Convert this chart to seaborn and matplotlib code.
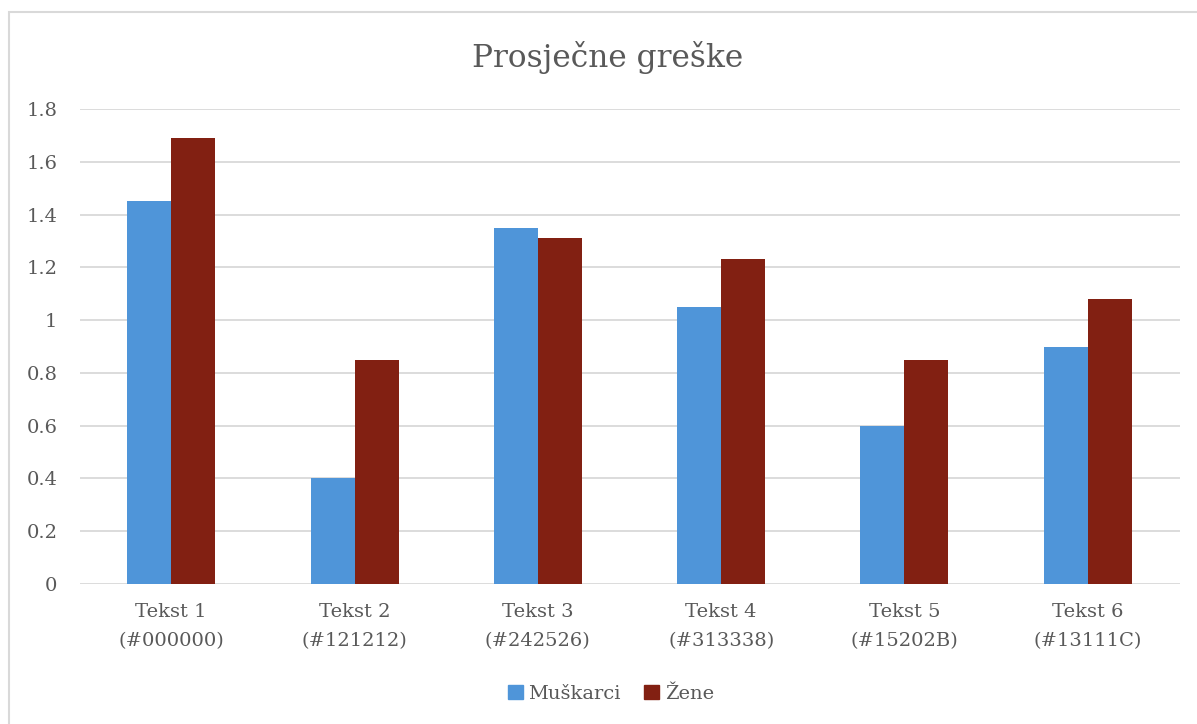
import matplotlib
matplotlib.use("Agg")
import matplotlib.pyplot as plt
import seaborn as sns
import pandas as pd
from matplotlib.patches import Rectangle

categories = ["Tekst 1\n(#000000)", "Tekst 2\n(#121212)", "Tekst 3\n(#242526)",
              "Tekst 4\n(#313338)", "Tekst 5\n(#15202B)", "Tekst 6\n(#13111C)"]
muskarci = [1.45, 0.40, 1.35, 1.05, 0.60, 0.90]
zene = [1.69, 0.85, 1.31, 1.23, 0.85, 1.08]
series = ["Muškarci", "Žene"]
colors = ["#4f95d9", "#822012"]
yticks = [0, 0.2, 0.4, 0.6, 0.8, 1.0, 1.2, 1.4, 1.6, 1.8]
yticklabels = ["0", "0.2", "0.4", "0.6", "0.8", "1", "1.2", "1.4", "1.6", "1.8"]

df = pd.DataFrame({
    "cat": categories * 2,
    "val": muskarci + zene,
    "ser": [series[0]] * len(categories) + [series[1]] * len(categories),
})

sns.set_theme(style="white")
plt.rcParams["font.family"] = ["DejaVu Serif"]
text_color = "#595959"
grid_color = "#d9d9d9"

fig = plt.figure(figsize=(11.97, 7.24), dpi=100)
ax = fig.add_axes([79.5 / 1197, 140 / 724, 1100 / 1197, 475 / 724])

sns.barplot(data=df, x="cat", y="val", hue="ser", palette=colors, width=0.48,
            saturation=1, ax=ax, legend=False, zorder=3, linewidth=0)
ax.set_xlim(-0.5, len(categories) - 0.5)
ax.set_ylim(0, 1.8)
ax.set_yticks(yticks)
ax.set_yticklabels(yticklabels)
for y in yticks:
    ax.axhline(y, color=grid_color, lw=1.3, zorder=1)
for s in ax.spines.values():
    s.set_visible(False)
ax.set_xlabel("")
ax.set_ylabel("")
ax.tick_params(axis="both", length=0, colors=text_color, labelsize=14)
ax.tick_params(axis="y", pad=16)
ax.tick_params(axis="x", pad=14)
for lbl in ax.get_xticklabels():
    lbl.set_linespacing(1.75)

fig.text(608 / 1197, 1 - 57 / 724, "Prosječne greške", ha="center", va="center",
         fontsize=22.5, color=text_color)

handles = [Rectangle((0, 0), 1, 1, color=c) for c in colors]
fig.legend(handles, series, loc="center", bbox_to_anchor=(611 / 1197, 30 / 724),
           ncol=2, frameon=False, fontsize=14, labelcolor=text_color,
           handlelength=0.75, handleheight=0.75, handletextpad=0.3, columnspacing=1.2)

fig.patches.append(Rectangle((8.5 / 1197, -0.1), 1.2, (724 - 11.5) / 724 + 0.1,
                             transform=fig.transFigure, fill=False,
                             edgecolor=grid_color, lw=1.5))

fig.savefig("out.png", dpi=100)
